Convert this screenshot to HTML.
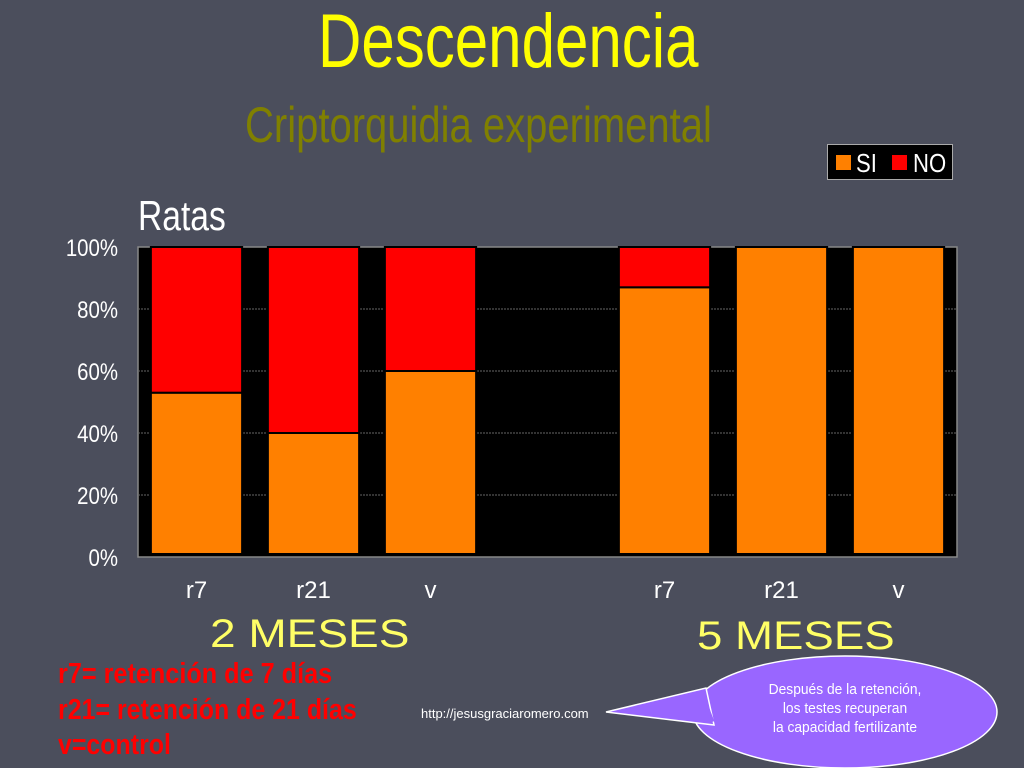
<!DOCTYPE html>
<html><head><meta charset="utf-8"><style>
body{margin:0;width:1024px;height:768px;overflow:hidden;background:#4b4e5c;font-family:"Liberation Sans",sans-serif;position:relative}
.t{position:absolute;white-space:nowrap}
</style></head><body>
<div class="t" style="left:318px;top:-2px;font-size:76px;color:#ffff00;transform:scaleX(0.79);transform-origin:left top">Descendencia</div>
<div class="t" style="left:245px;top:96px;font-size:50px;color:#808000;transform:scaleX(0.8);transform-origin:left top">Criptorquidia experimental</div>
<div class="t" style="left:138px;top:192px;font-size:42px;color:#fff;transform:scaleX(0.8);transform-origin:left top">Ratas</div>
<div style="position:absolute;left:827px;top:144px;width:124px;height:34px;background:#000;border:1px solid #aaa">
<div style="position:absolute;left:8px;top:10px;width:15px;height:15px;background:#ff8000"></div>
<div class="t" style="left:28px;top:3px;font-size:26px;color:#fff;transform:scaleX(0.85);transform-origin:left top">SI</div>
<div style="position:absolute;left:64px;top:10px;width:15px;height:15px;background:#ff0000"></div>
<div class="t" style="left:85px;top:3px;font-size:26px;color:#fff;transform:scaleX(0.85);transform-origin:left top">NO</div>
</div>
<svg id="chart" width="1024" height="768" style="position:absolute;left:0;top:0"></svg>
<div class="t" style="left:210px;top:612px;font-size:40px;color:#ffff66;transform:scaleX(1.15);transform-origin:left top">2 MESES</div>
<div class="t" style="left:697px;top:614px;font-size:40px;color:#ffff66;transform:scaleX(1.14);transform-origin:left top">5 MESES</div>
<div class="t" style="left:58px;top:658px;font-size:29px;font-weight:bold;color:#ff0000;transform:scaleX(0.87);transform-origin:left top">r7= retención de 7 días</div>
<div class="t" style="left:58px;top:694px;font-size:29px;font-weight:bold;color:#ff0000;transform:scaleX(0.86);transform-origin:left top">r21= retención de 21 días</div>
<div class="t" style="left:58px;top:729px;font-size:29px;font-weight:bold;color:#ff0000;transform:scaleX(0.86);transform-origin:left top">v=control</div>
<div class="t" style="left:421px;top:706px;font-size:13px;color:#fff">http://jesusgraciaromero.com</div>
<svg width="1024" height="768" style="position:absolute;left:0;top:0">
<ellipse cx="845" cy="712" rx="152" ry="56" fill="#9966ff" stroke="#fff" stroke-width="1.5"/>
<path d="M606,712 L706,688 L714,725 Z" fill="#9966ff" stroke="#fff" stroke-width="1.5"/>
<path d="M700,691 L712,722" stroke="#9966ff" stroke-width="5"/>
</svg>
<div class="t" style="left:700px;top:680px;width:290px;text-align:center;font-size:15px;line-height:19px;color:#fff;transform:scaleX(0.92);transform-origin:center top">Después de la retención,<br>los testes recuperan<br>la capacidad fertilizante</div>
<script>
const categories=["r7","r21","v","","r7","r21","v"];
const siValues=[53,40,60,null,87,100,100];
const noValues=[47,60,40,null,13,0,0];
const yTicks=[0,20,40,60,80,100];
const svg=document.getElementById('chart');
const NS='http://www.w3.org/2000/svg';
const x0=138,x1=957,yTop=247,yBot=557;
const slot=(x1-x0)/categories.length;
const y=v=>yBot-(v/100)*(yBot-yTop);
const xc=i=>x0+slot*(i+0.5);
function mk(t,a){const e=document.createElementNS(NS,t);for(const k in a)e.setAttribute(k,a[k]);svg.appendChild(e);return e;}
const bg=mk('rect',{x:x0,y:yTop,width:x1-x0,height:yBot-yTop,fill:'#000',stroke:'#888','stroke-width':1.5});


yTicks.forEach(t=>{
 if(t>0&&t<100){const g=mk('line',{x1:x0,x2:x1,y1:y(t),y2:y(t),stroke:'#666','stroke-width':1,'stroke-dasharray':'2,1'});
 
 }
 const l=mk('text',{x:118,y:y(t)+9,'text-anchor':'end','font-size':24,fill:'#fff','font-family':'Liberation Sans'});
 l.setAttribute('transform','translate('+118*0.15+',0) scale(0.85,1)');
 
 
 l.textContent=t+'%';
});
const bw=slot*0.78;
categories.forEach((c,i)=>{
 if(siValues[i]!==null){
  const s=mk('rect',{x:xc(i)-bw/2,y:y(siValues[i]),width:bw,height:y(0)-y(siValues[i])-3,fill:'#ff8000',stroke:'#000','stroke-width':2});
  
  
  if(noValues[i]>0){
   const n=mk('rect',{x:xc(i)-bw/2,y:y(siValues[i]+noValues[i]),width:bw,height:y(siValues[i])-y(siValues[i]+noValues[i]),fill:'#ff0000',stroke:'#000','stroke-width':2});
   
   
  }
 }
 if(c){const l=mk('text',{x:xc(i),y:598,'text-anchor':'middle','font-size':24,fill:'#fff','font-family':'Liberation Sans'});
 
 
 l.textContent=c;}
});
</script>
</body></html>
